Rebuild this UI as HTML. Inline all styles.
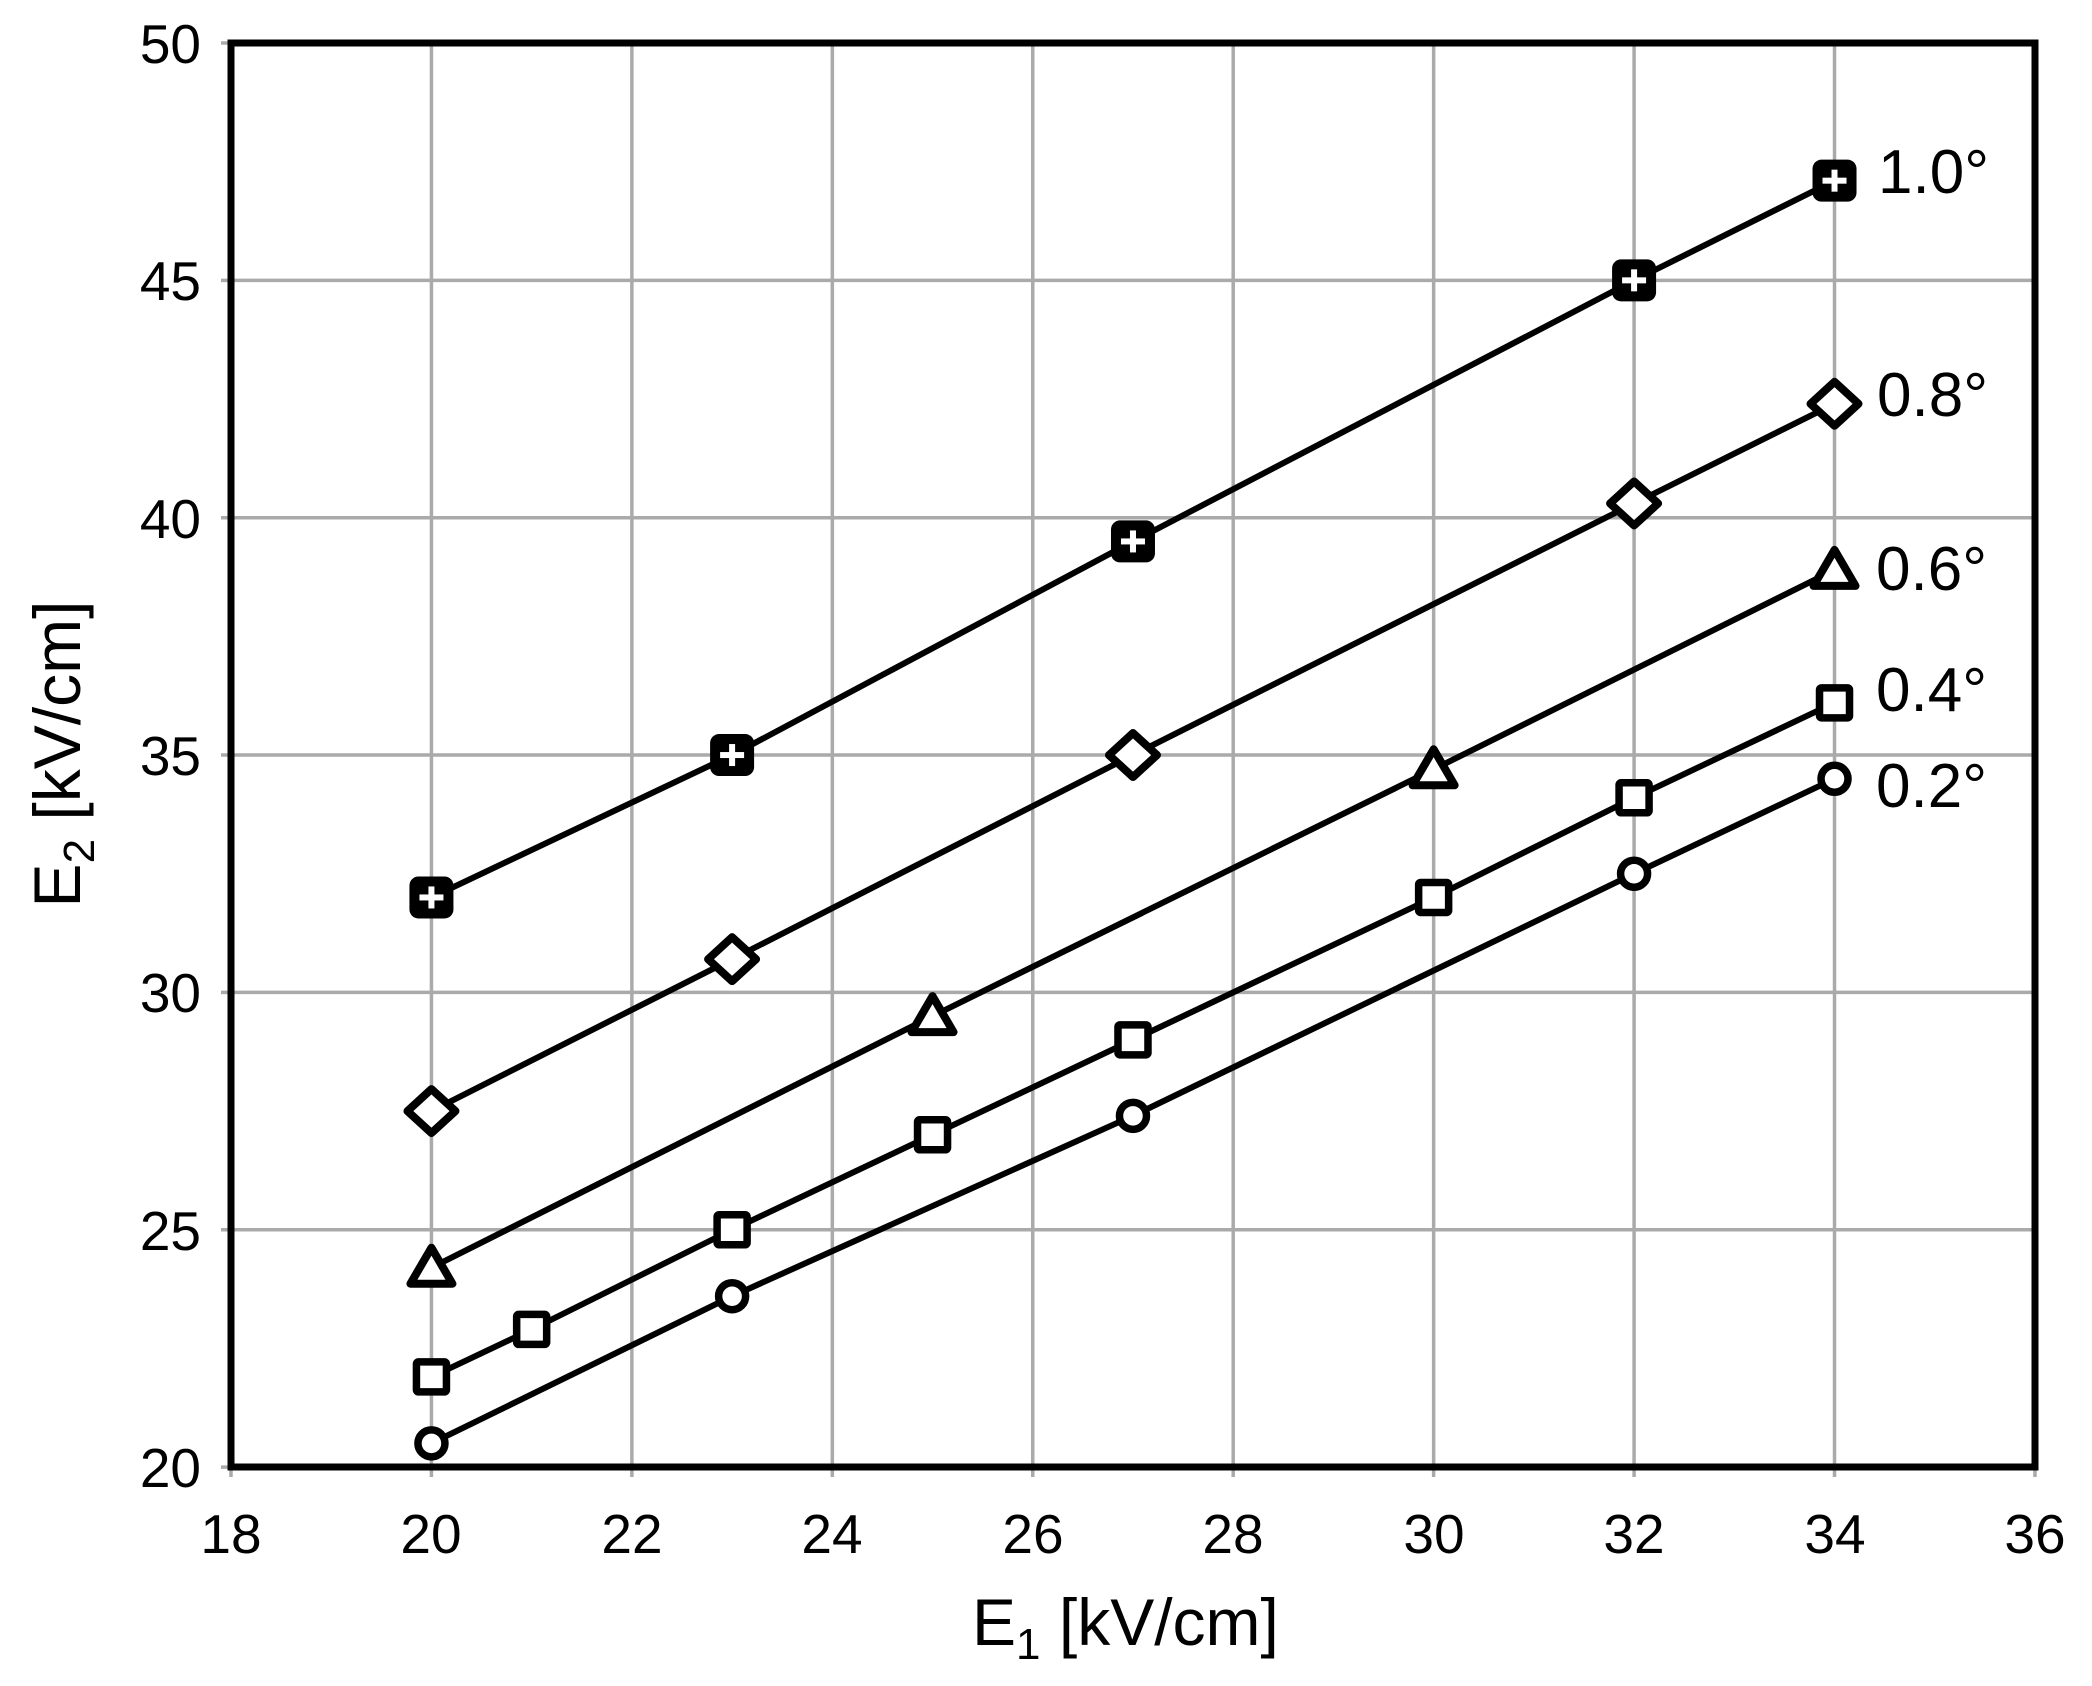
<!DOCTYPE html>
<html><head><meta charset="utf-8"><style>
html,body{margin:0;padding:0;background:#fff;}
svg{display:block;}
text{font-family:"Liberation Sans",sans-serif;fill:#000;}
</style></head><body>
<svg id="s" width="2092" height="1686" viewBox="0 0 2092 1686" xmlns="http://www.w3.org/2000/svg">
<g id="grid" stroke="#aaaaaa" stroke-width="3.5"></g>
<g id="lines" stroke="#000" stroke-width="6" fill="none" stroke-linejoin="round"></g>
<g id="marks"></g>
<rect x="231" y="43" width="1804" height="1424" fill="none" stroke="#000" stroke-width="7"/>
<g font-size="55" text-anchor="end">
<text x="201" y="63">50</text>
<text x="201" y="300">45</text>
<text x="201" y="538">40</text>
<text x="201" y="775">35</text>
<text x="201" y="1012">30</text>
<text x="201" y="1250">25</text>
<text x="201" y="1487">20</text>
</g>
<g font-size="55" text-anchor="middle">
<text x="231" y="1553">18</text>
<text x="431" y="1553">20</text>
<text x="632" y="1553">22</text>
<text x="832" y="1553">24</text>
<text x="1033" y="1553">26</text>
<text x="1233" y="1553">28</text>
<text x="1434" y="1553">30</text>
<text x="1634" y="1553">32</text>
<text x="1835" y="1553">34</text>
<text x="2035" y="1553">36</text>
</g>
<g font-size="62">
<text x="1878" y="193">1.0°</text>
<text x="1877" y="416">0.8°</text>
<text x="1876" y="590">0.6°</text>
<text x="1876" y="711">0.4°</text>
<text x="1876" y="807">0.2°</text>
</g>
<text x="972" y="1645" font-size="66">E<tspan font-size="44" dy="14">1</tspan><tspan dy="-14"> [kV/cm]</tspan></text>
<text transform="translate(80,754) rotate(-90)" font-size="66" text-anchor="middle">E<tspan font-size="44" dy="14">2</tspan><tspan dy="-14"> [kV/cm]</tspan></text>
</svg>
<script>
var NS="http://www.w3.org/2000/svg";
function X(v){return 231+(v-18)*100.22;}
function Y(v){return 43+(50-v)*47.47;}
function el(p,t,a){var e=document.createElementNS(NS,t);for(var k in a)e.setAttribute(k,a[k]);document.getElementById(p).appendChild(e);return e;}
for(var v=20;v<=34;v+=2){el('grid','line',{x1:X(v),y1:43,x2:X(v),y2:1477});}
el('grid','line',{x1:X(18),y1:1467,x2:X(18),y2:1477});
el('grid','line',{x1:X(36),y1:1467,x2:X(36),y2:1477});
for(var v=20;v<=50;v+=5){el('grid','line',{x1:221,y1:Y(v),x2:2035,y2:Y(v)});}
var S={
 p:[[20,32],[23,35],[27,39.5],[32,45],[34,47.1]],
 d:[[20,27.5],[23,30.7],[27,35],[32,40.3],[34,42.4]],
 t:[[20,24.2],[25,29.5],[30,34.7],[34,38.9]],
 q:[[20,21.9],[21,22.9],[23,25],[25,27],[27,29],[30,32],[32,34.1],[34,36.1]],
 c:[[20,20.5],[23,23.6],[27,27.4],[32,32.5],[34,34.5]]
};
for(var k in S){
 var pts=S[k].map(function(p){return X(p[0])+','+Y(p[1]);}).join(' ');
 el('lines','polyline',{points:pts});
 S[k].forEach(function(p){
  var x=X(p[0]),y=Y(p[1]);
  if(k=='p'){
   el('marks','rect',{x:x-22,y:y-21,width:44,height:42,rx:9,fill:'#000'});
   el('marks','rect',{x:x-12,y:y-3,width:24,height:6,fill:'#fff'});
   el('marks','rect',{x:x-3,y:y-11,width:6,height:22,fill:'#fff'});
  } else if(k=='d'){
   el('marks','polygon',{points:(x)+','+(y-22)+' '+(x+24)+','+y+' '+x+','+(y+22)+' '+(x-24)+','+y,fill:'#fff',stroke:'#000','stroke-width':8,'stroke-linejoin':'round'});
  } else if(k=='t'){
   el('marks','polygon',{points:x+','+(y-20)+' '+(x+21)+','+(y+16)+' '+(x-21)+','+(y+16),fill:'#fff',stroke:'#000','stroke-width':8,'stroke-linejoin':'round'});
  } else if(k=='q'){
   el('marks','rect',{x:x-15,y:y-15,width:30,height:30,fill:'#fff',stroke:'#000','stroke-width':7.5,rx:2});
  } else {
   el('marks','circle',{cx:x,cy:y,r:13.5,fill:'#fff',stroke:'#000','stroke-width':7.5});
  }
 });
}
</script>
</body></html>
